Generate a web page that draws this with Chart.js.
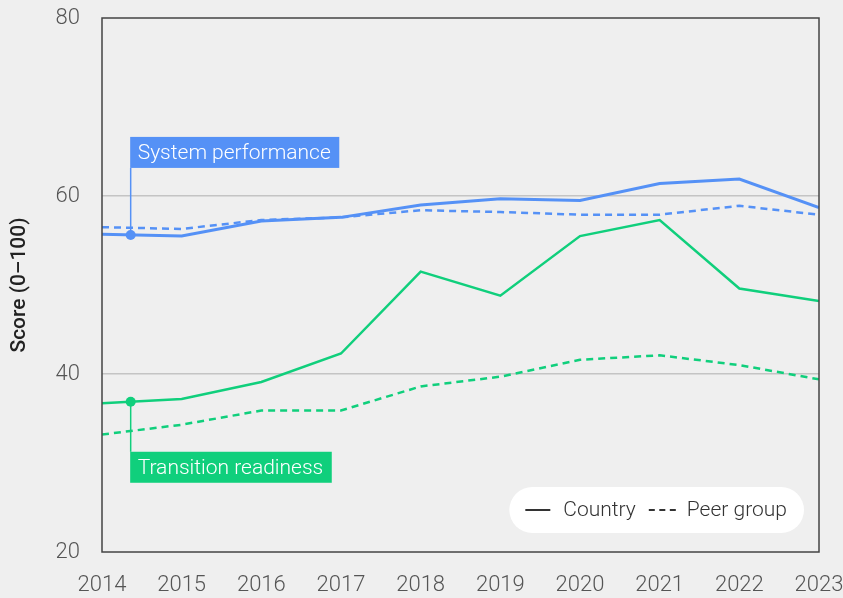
<!DOCTYPE html>
<html>
<head>
<meta charset="utf-8">
<script src="https://cdn.jsdelivr.net/npm/chart.js@4/dist/chart.umd.min.js"></script>
<style>
  html, body { margin: 0; padding: 0; background: #efefef; }
  #wrap { width: 843px; height: 598px; }
</style>
</head>
<body>
<div id="wrap"><canvas id="c" width="843" height="598"></canvas></div>
<script>
// Years on the horizontal axis
const years = [2014, 2015, 2016, 2017, 2018, 2019, 2020, 2021, 2022, 2023];

// System performance scores
const sysCountry = [55.7, 55.5, 57.2, 57.6, 59.0, 59.7, 59.5, 61.4, 61.9, 58.7];
const sysPeer    = [56.5, 56.3, 57.3, 57.6, 58.4, 58.2, 57.9, 57.9, 58.9, 57.9];

// Transition readiness scores
const trCountry = [36.7, 37.2, 39.1, 42.3, 51.5, 48.8, 55.5, 57.3, 49.6, 48.2];
const trPeer    = [33.2, 34.3, 35.9, 35.9, 38.6, 39.7, 41.6, 42.1, 41.0, 39.4];

// Y axis ticks
const yTicks = [20, 40, 60, 80];

// Series labels
const seriesNames = ['System performance', 'Transition readiness'];
const legendNames = ['Country', 'Peer group'];

// Where the callout markers sit along the country lines
const calloutYear = 2014.36;

const BLUE = '#5591f6';
const GREEN = '#10cf7c';
const FONT = 'Roboto, "Liberation Sans", sans-serif';

function pts(vals) { return years.map((y, i) => ({ x: y, y: vals[i] })); }
function valueAt(vals, x) {
  const i = Math.min(Math.floor(x - years[0]), years.length - 2);
  const t = x - years[i];
  return vals[i] + (vals[i + 1] - vals[i]) * t;
}

const lineBase = { pointRadius: 0, pointHoverRadius: 0, tension: 0, fill: false };

const callouts = [
  { label: seriesNames[0], color: BLUE, dataset: 4, dir: -1, gap: 67 },
  { label: seriesNames[1], color: GREEN, dataset: 5, dir: 1, gap: 50 }
];

const overlay = {
  id: 'overlay',
  afterDatasetsDraw(chart) {
    const { ctx, chartArea: a, scales } = chart;
    ctx.save();

    // plot frame
    ctx.strokeStyle = '#444';
    ctx.lineWidth = 1.5;
    ctx.strokeRect(a.left, a.top, a.right - a.left, a.bottom - a.top);

    // callouts
    ctx.font = '300 21px ' + FONT;
    ctx.textBaseline = 'middle';
    callouts.forEach(c => {
      const p = chart.data.datasets[c.dataset].data[0];
      const px = scales.x.getPixelForValue(p.x);
      const py = scales.y.getPixelForValue(p.y);
      const boxH = 31;
      const w = ctx.measureText(c.label).width + 16;
      const edge = py + c.dir * c.gap;
      const boxTop = c.dir < 0 ? edge - boxH : edge;
      ctx.strokeStyle = c.color;
      ctx.lineWidth = 1.5;
      ctx.beginPath();
      ctx.moveTo(px, py);
      ctx.lineTo(px, edge);
      ctx.stroke();
      ctx.fillStyle = c.color;
      ctx.fillRect(px - 0.5, boxTop, w, boxH);
      ctx.fillStyle = '#ffffff';
      ctx.textAlign = 'left';
      ctx.fillText(c.label, px + 7, boxTop + boxH / 2 + 1);
      // marker dot on top
      ctx.beginPath();
      ctx.arc(px, py, 5, 0, Math.PI * 2);
      ctx.fillStyle = c.color;
      ctx.fill();
    });

    // legend pill
    ctx.font = '300 21px ' + FONT;
    const t1 = ctx.measureText(legendNames[0]).width;
    const t2 = ctx.measureText(legendNames[1]).width;
    const padL = 16, padR = 17, sample = 25, g1 = 13, g2 = 13;
    const pw = padL + sample + g1 + t1 + g2 + sample + g1 + t2 + padR;
    const ph = 46;
    const right = a.right - 15;
    const bottom = a.bottom - 19;
    const left = right - pw;
    const top = bottom - ph;
    ctx.fillStyle = '#ffffff';
    ctx.beginPath();
    ctx.roundRect(left, top, pw, ph, ph / 2);
    ctx.fill();
    const cy = top + ph / 2;
    let x = left + padL;
    ctx.strokeStyle = '#333';
    ctx.lineWidth = 2;
    ctx.setLineDash([]);
    ctx.beginPath(); ctx.moveTo(x, cy); ctx.lineTo(x + sample, cy); ctx.stroke();
    x += sample + g1;
    ctx.fillStyle = '#333';
    ctx.textAlign = 'left';
    ctx.fillText(legendNames[0], x, cy + 1);
    x += t1 + g2;
    ctx.setLineDash([6, 4.5]);
    ctx.beginPath(); ctx.moveTo(x, cy); ctx.lineTo(x + sample + 2, cy); ctx.stroke();
    ctx.setLineDash([]);
    x += sample + g1;
    ctx.fillText(legendNames[1], x, cy + 1);

    ctx.restore();
  }
};

new Chart(document.getElementById('c'), {
  type: 'line',
  data: {
    datasets: [
      { ...lineBase, label: seriesNames[0] + ' peer', data: pts(sysPeer), borderColor: BLUE, borderWidth: 2.5, borderDash: [7, 5] },
      { ...lineBase, label: seriesNames[1] + ' peer', data: pts(trPeer), borderColor: GREEN, borderWidth: 2.5, borderDash: [7, 5] },
      { ...lineBase, label: seriesNames[0], data: pts(sysCountry), borderColor: BLUE, borderWidth: 3 },
      { ...lineBase, label: seriesNames[1], data: pts(trCountry), borderColor: GREEN, borderWidth: 2.5 },
      { ...lineBase, label: 'sys marker', data: [{ x: calloutYear, y: valueAt(sysCountry, calloutYear) }], borderWidth: 0, showLine: false },
      { ...lineBase, label: 'tr marker', data: [{ x: calloutYear, y: valueAt(trCountry, calloutYear) }], borderWidth: 0, showLine: false }
    ]
  },
  options: {
    responsive: false,
    animation: false,
    events: [],
    layout: { padding: { top: 18, right: 24, left: 0, bottom: 0 } },
    plugins: { legend: { display: false }, tooltip: { enabled: false } },
    scales: {
      x: {
        type: 'linear',
        min: years[0],
        max: years[years.length - 1],
        border: { display: false },
        grid: { display: false, drawTicks: false },
        afterBuildTicks(scale) { scale.ticks = years.map(v => ({ value: v })); },
        ticks: {
          padding: 20,
          color: '#555',
          font: { family: FONT, size: 22, weight: 300 },
          callback: v => String(v),
          maxRotation: 0,
          autoSkip: false
        },
        afterFit(scale) {
          scale.height = 46;
          scale.paddingLeft = 0;
          scale.paddingRight = 0;
        }
      },
      y: {
        min: yTicks[0],
        max: yTicks[yTicks.length - 1],
        border: { display: false },
        afterBuildTicks(scale) { scale.ticks = yTicks.map(v => ({ value: v })); },
        grid: {
          drawTicks: false,
          lineWidth: 1.5,
          color: ctx => (ctx.tick && (ctx.tick.value === 40 || ctx.tick.value === 60)) ? '#c4c4c4' : 'rgba(0,0,0,0)'
        },
        ticks: {
          padding: 22,
          color: '#555',
          font: { family: FONT, size: 22, weight: 300 }
        },
        title: {
          display: true,
          text: 'Score (0–100)',
          color: '#222',
          font: { family: FONT, size: 21, weight: 500 },
          padding: { top: 7, bottom: 0 }
        },
        afterFit(scale) {
          scale.width = 102;
          scale.paddingTop = 0;
          scale.paddingBottom = 0;
        }
      }
    }
  },
  plugins: [overlay]
});
</script>
</body>
</html>
